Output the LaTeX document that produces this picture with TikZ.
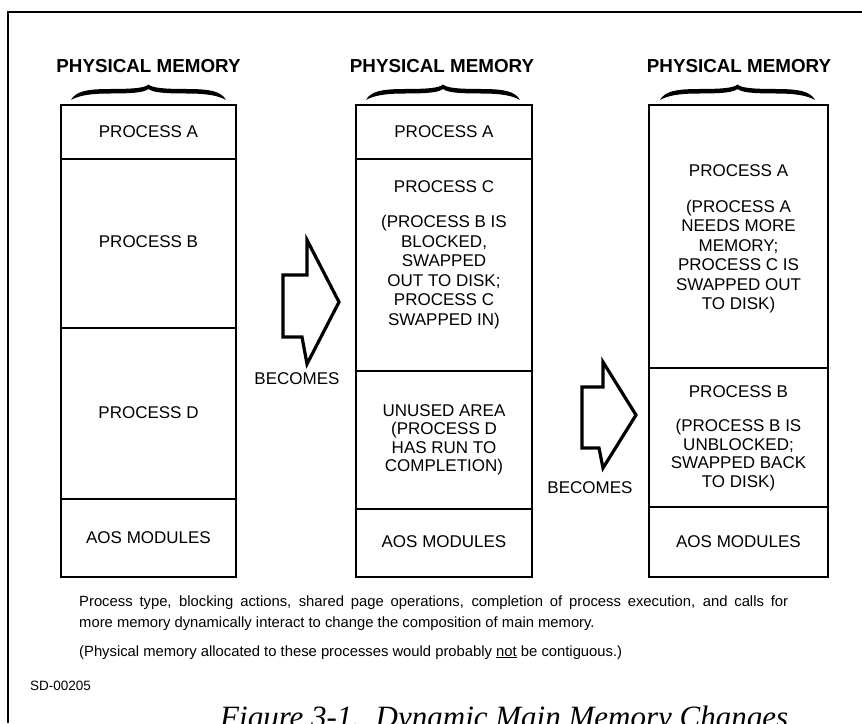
\documentclass[tikz,border=0pt]{standalone}
\usepackage{fontspec}
\setmainfont{Liberation Sans}
\newfontfamily\figserif{Liberation Serif}
\begin{document}
\begin{tikzpicture}[x=1pt,y=-1pt,
  frame/.style={line width=2.2pt},
  membox/.style={line width=2.6pt},
  divider/.style={line width=1.8pt},
  cell/.style={font=\fontsize{17}{18.5}\selectfont, align=center, inner sep=0pt},
  widecell/.style={cell, font=\fontsize{17}{19.5}\selectfont},
  heading/.style={font=\bfseries\fontsize{18.8}{20}\selectfont, inner sep=0pt},
  blockarrow/.style={draw, line width=3.2pt, line join=miter, miter limit=10},
  note/.style={font=\fontsize{14.8}{21}\selectfont, anchor=base west, inner sep=0pt},
  membrace/.pic={
    \fill (-1,0) .. controls (-0.94,-8.5) and (-0.8,-11) .. (-0.5,-11)
      .. controls (-0.2,-11) and (-0.05,-12) .. (0,-15.5)
      .. controls (0.05,-12) and (0.2,-11) .. (0.5,-11)
      .. controls (0.8,-11) and (0.94,-8.5) .. (1,0)
      .. controls (0.9,-4.5) and (0.75,-6.5) .. (0.5,-6.5)
      .. controls (0.2,-6.5) and (0.06,-7.5) .. (0,-11)
      .. controls (-0.06,-7.5) and (-0.2,-6.5) .. (-0.5,-6.5)
      .. controls (-0.75,-6.5) and (-0.9,-4.5) .. (-1,0) -- cycle;
  }
]
\useasboundingbox (0,0) rectangle (862,723);
\clip (0,0) rectangle (862,723);

% page frame: top rule and left rule
\draw[frame] (862,12) -- (8,12) -- (8,723);

% headings and braces
\node[heading] (h1) at (148.5,66) {PHYSICAL MEMORY};
\node[heading] (h2) at (442,66) {PHYSICAL MEMORY};
\node[heading] (h3) at (739,66) {PHYSICAL MEMORY};
\pic[xscale=77.5] at (148.5,100) {membrace};
\pic[xscale=77] at (443,100) {membrace};
\pic[xscale=77.5] at (737.5,100) {membrace};

% first memory map
\draw[membox] (61,105) rectangle (236,577);
\draw[divider] (61,159) -- (236,159);
\draw[divider] (61,328) -- (236,328);
\draw[divider] (61,499) -- (236,499);
\node[cell] (a1) at (148.5,132) {PROCESS A};
\node[cell] (b1) at (148.5,242) {PROCESS B};
\node[cell] (d1) at (148.5,413) {PROCESS D};
\node[cell] (m1) at (148.5,538) {AOS MODULES};

% second memory map
\draw[membox] (356,105) rectangle (532,577);
\draw[divider] (356,159) -- (532,159);
\draw[divider] (356,371) -- (532,371);
\draw[divider] (356,509) -- (532,509);
\node[cell] (a2) at (444,132) {PROCESS A};
\node[widecell] (c2) at (444,255) {PROCESS C\\[15.5pt](PROCESS B IS\\BLOCKED,\\SWAPPED\\OUT TO DISK;\\PROCESS C\\SWAPPED IN)};
\node[cell] (u2) at (444,440) {UNUSED AREA\\(PROCESS D\\HAS RUN TO\\COMPLETION)};
\node[cell] (m2) at (444,542) {AOS MODULES};

% third memory map
\draw[membox] (649,105) rectangle (828,577);
\draw[divider] (649,368) -- (828,368);
\draw[divider] (649,507) -- (828,507);
\node[widecell] (a3) at (738.5,239) {PROCESS A\\[16.5pt](PROCESS A\\NEEDS MORE\\MEMORY;\\PROCESS C IS\\SWAPPED OUT\\TO DISK)};
\node[cell] (b3) at (738.5,438) {PROCESS B\\[16pt](PROCESS B IS\\UNBLOCKED;\\SWAPPED BACK\\TO DISK)};
\node[cell] (m3) at (738.5,542) {AOS MODULES};

% transition arrows
\draw[blockarrow] (283,275) -- (307,275) -- (307,240) -- (339,302) -- (307,364) -- (302,337) -- (283,337) -- cycle;
\node[cell] (t1) at (297,379) {BECOMES};
\draw[blockarrow] (582,387) -- (603,387) -- (603,362) -- (636,415) -- (603,468) -- (599,448) -- (582,448) -- cycle;
\node[cell] (t2) at (590,488) {BECOMES};

% notes and caption
\node[note] (n1) at (79,606) {\makebox[709pt][s]{Process type, blocking actions, shared page operations, completion of process execution, and calls for}};
\node[note] (n2) at (79,627) {more memory dynamically interact to change the composition of main memory.};
\node[note] (n3) at (79,656) {(Physical memory allocated to these processes would probably \underline{not} be contiguous.)};
\node[note, font=\fontsize{13.5}{15}\selectfont] (sd) at (30,690) {SD-00205};
\node[anchor=base west, inner sep=0pt, font=\figserif\itshape\fontsize{31}{34}\selectfont] (fig) at (220,727) {Figure 3-1.\ \ Dynamic Main Memory Changes};
\end{tikzpicture}
\end{document}
